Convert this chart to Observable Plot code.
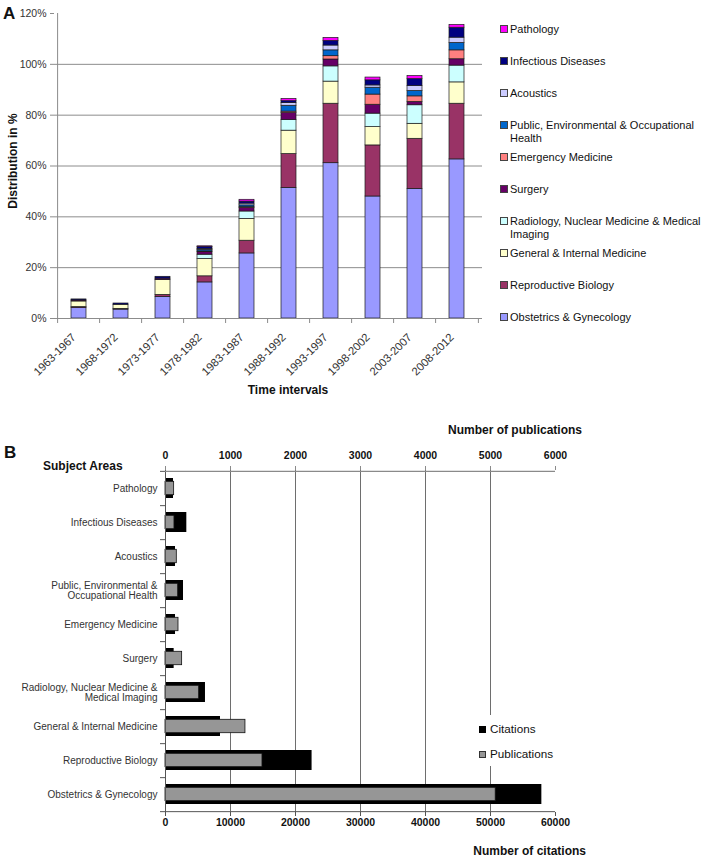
<!DOCTYPE html>
<html><head><meta charset="utf-8">
<script src="https://cdn.jsdelivr.net/npm/d3@7"></script>
<script src="https://cdn.jsdelivr.net/npm/@observablehq/plot@0.6"></script>
<style>
body{margin:0;background:#fff;font-family:"Liberation Sans",Arial,sans-serif;}
#wrap{position:relative;width:708px;height:863px;overflow:hidden;background:#fff;}
#wrap svg{position:absolute;left:0;}
.t{position:absolute;white-space:nowrap;line-height:1;color:#111;}
.sw{position:absolute;box-sizing:border-box;}
</style></head><body><div id="wrap"></div>
<script>
// ---------- Panel A data ----------
const periods = ["1963-1967","1968-1972","1973-1977","1978-1982","1983-1987","1988-1992","1993-1997","1998-2002","2003-2007","2008-2012"];
const areas = ["Obstetrics & Gynecology","Reproductive Biology","General & Internal Medicine","Radiology, Nuclear Medicine & Medical Imaging","Surgery","Emergency Medicine","Public, Environmental & Occupational Health","Acoustics","Infectious Diseases","Pathology"];
const areaColors = ["#9999FF","#993366","#FFFFCC","#CCFFFF","#660066","#FF8080","#0066CC","#CCCCFF","#000080","#FF00FF"];
const obstetrics   = [4.1,3.5,8.5,14.2,25.6,51.4,61.1,48.0,51.0,62.6];
const reproductive = [0.4,0.3,0.8,2.4,5.0,13.3,23.4,20.1,19.7,21.9];
const general      = [2.2,1.6,5.8,6.8,8.6,9.2,8.7,7.2,5.9,8.4];
const radiology    = [0,0,0,1.7,2.9,4.2,6.0,5.3,7.3,6.6];
const surgery      = [0.4,0,0.6,1.0,1.4,2.7,2.7,3.5,1.3,2.5];
const emergency    = [0,0,0,0.3,0.3,0.6,1.3,4.0,2.2,3.5];
const publicHealth = [0,0,0,0.6,0.7,2.3,2.3,2.7,2.1,2.9];
const acoustics    = [0,0,0,0.4,0.7,1.1,1.9,0.9,2.0,2.1];
const infectious   = [0.4,0.5,0.7,0.8,0.8,0.7,1.8,2.0,2.7,3.9];
const pathology    = [0,0,0,0.2,0.7,0.9,1.2,1.1,1.2,1.1];
const yTicksA = [0,20,40,60,80,100,120];
const legendLabelsA = ["Pathology","Infectious Diseases","Acoustics","Public, Environmental & Occupational\nHealth","Emergency Medicine","Surgery","Radiology, Nuclear Medicine & Medical\nImaging","General & Internal Medicine","Reproductive Biology","Obstetrics & Gynecology"];

// ---------- Panel B data ----------
const subjects = ["Pathology","Infectious Diseases","Acoustics","Public, Environmental & Occupational Health","Emergency Medicine","Surgery","Radiology, Nuclear Medicine & Medical Imaging","General & Internal Medicine","Reproductive Biology","Obstetrics & Gynecology"];
const subjectLabels = ["Pathology","Infectious Diseases","Acoustics","Public, Environmental &\nOccupational Health","Emergency Medicine","Surgery","Radiology, Nuclear Medicine &\nMedical Imaging","General & Internal Medicine","Reproductive Biology","Obstetrics & Gynecology"];
const citations    = [1230,3280,1540,2770,1540,1330,6150,8460,22550,57900];
const publications = [133,138,174,195,200,256,518,1230,1492,5080];
const citationTicks = [0,10000,20000,30000,40000,50000,60000];
const pubPerCitationUnit = 10; // top axis 0–6000 shares the 0–60000 citation scale

// ---------- helpers ----------
function hasFont(f){
  const c=document.createElement("canvas").getContext("2d");
  c.font="20px monospace"; const a=c.measureText("abcdefghijMWl&").width;
  c.font=`20px "${f}", monospace`; return c.measureText("abcdefghijMWl&").width!==a;
}
const narrow = hasFont("Liberation Sans Narrow");
const fontB = narrow ? '"Liberation Sans Narrow", "Liberation Sans", sans-serif' : '"Liberation Sans", Arial, sans-serif';
const catSize = narrow ? 12 : 10;
const tickSizeB = narrow ? 12.5 : 10.5;

const wrap = document.getElementById("wrap");
function txt(s, x, y, o = {}) {
  const d = document.createElement("div");
  d.className = "t";
  d.textContent = s;
  d.style.left = x + "px"; d.style.top = y + "px";
  d.style.fontSize = (o.size || 12) + "px";
  if (o.bold) d.style.fontWeight = "bold";
  if (o.family) d.style.fontFamily = o.family;
  if (o.color) d.style.color = o.color;
  if (o.pre) { d.style.whiteSpace = "pre"; d.style.lineHeight = o.lh || "1.15"; }
  const ax = o.anchor === "middle" ? "-50%" : o.anchor === "end" ? "-100%" : "0";
  d.style.transform = `translate(${ax},-50%)` + (o.rotate ? ` rotate(${o.rotate}deg)` : "");
  wrap.appendChild(d);
  return d;
}
function swatch(x, y, w, fill, stroke) {
  const d = document.createElement("div");
  d.className = "sw";
  Object.assign(d.style, {left: x + "px", top: y + "px", width: w + "px", height: w + "px", background: fill, border: `1px solid ${stroke || "#333"}`});
  wrap.appendChild(d);
  return d;
}

// ---------- Panel A ----------
const series = [obstetrics, reproductive, general, radiology, surgery, emergency, publicHealth, acoustics, infectious, pathology];
const rowsA = [];
periods.forEach((p, i) => series.forEach((s, j) => { if (s[i] > 0) rowsA.push({period: p, area: areas[j], value: s[i]}); }));

const mA = {left: 54, right: 226, top: 13, bottom: 82};
const stepA = (708 - mA.left - mA.right) / periods.length;
const gridA = "#8c8c8c";
const plotA = Plot.plot({
  width: 708, height: 400,
  marginLeft: mA.left, marginRight: mA.right, marginTop: mA.top, marginBottom: mA.bottom,
  style: {fontFamily: '"Liberation Sans", Arial, sans-serif', background: "transparent", overflow: "visible"},
  x: {domain: periods, paddingInner: 0.634, paddingOuter: 0.317, axis: null},
  y: {domain: [0, 120], axis: null},
  color: {domain: areas, range: areaColors},
  marks: [
    Plot.ruleY(yTicksA.filter(d => d > 0 && d < 120), {stroke: gridA, strokeWidth: 1}),
    Plot.barY(rowsA, {x: "period", y: "value", fill: "area", stroke: "#1a1a1a", strokeWidth: 0.7, order: areas}),
    Plot.ruleY([0], {stroke: gridA}),
    Plot.ruleX([periods[0]], {dx: -stepA / 2, y1: 0, y2: 120, stroke: gridA}),
    Plot.ruleX(periods, {dx: -stepA / 2, y1: 0, y2: 0, insetBottom: -5, stroke: gridA}),
    Plot.ruleX([periods[periods.length - 1]], {dx: stepA / 2, y1: 0, y2: 0, insetBottom: -5, stroke: gridA}),
    Plot.axisY({ticks: yTicksA, tickFormat: d => d + "%", tickSize: 4, tickPadding: 4, fontSize: 10.5, fill: "#333", stroke: gridA, label: null}),
    Plot.text(periods, {x: d => d, frameAnchor: "bottom", rotate: -45, textAnchor: "end", lineAnchor: "middle", dx: -5, dy: 17, fontSize: 11.3, fill: "#333"})
  ]
});
plotA.style.top = "0px";
wrap.appendChild(plotA);

txt("A", 3, 12.5, {size: 17, bold: true});
txt("Distribution in %", 13, 161, {size: 12, bold: true, anchor: "middle", rotate: -90});
txt("Time intervals", 288, 390, {size: 12, bold: true, anchor: "middle"});

// legend A (top to bottom: last area first)
legendLabelsA.forEach((lab, i) => {
  const area = areas[areas.length - 1 - i];
  const col = areaColors[areas.indexOf(area)];
  const yc = 29 + 32 * i;
  swatch(500, yc - 4, 8, col, "#444");
  const d = txt(lab, 510, yc, {size: 11, color: "#111", pre: lab.includes("\n"), lh: "1.15"});
  if (lab.includes("\n")) d.style.transform = "translate(0,-6.5px)";
});

// ---------- Panel B ----------
const rowsB = subjects.map((s, i) => ({subject: s, citations: citations[i], publications: publications[i]}));
const mB = {left: 165, right: 153, top: 44, bottom: 51};
const heightB = 438;
const stepB = (heightB - mB.top - mB.bottom) / subjects.length;
const plotB = Plot.plot({
  width: 708, height: heightB,
  marginLeft: mB.left, marginRight: mB.right, marginTop: mB.top, marginBottom: mB.bottom,
  style: {fontFamily: fontB, background: "transparent", overflow: "visible"},
  x: {domain: [0, 60000], axis: null},
  y: {domain: subjects, paddingInner: 0.42, paddingOuter: 0.21, axis: null},
  marks: [
    Plot.ruleX(citationTicks.slice(1, -1), {stroke: "#6e6e6e", strokeWidth: 1}),
    Plot.barX(rowsB, {y: "subject", x: "citations", fill: "#000"}),
    Plot.barX(rowsB, {y: "subject", x: d => d.publications * pubPerCitationUnit, fill: "#969696", stroke: "#111", strokeWidth: 0.8, insetTop: 3.3, insetBottom: 3.3}),
    Plot.ruleX([0], {stroke: "#555"}),
    Plot.ruleY([subjects[0]], {dy: -stepB / 2, stroke: "#8a8a8a", strokeWidth: 1.3}),
    Plot.ruleY([subjects[subjects.length - 1]], {dy: stepB / 2, stroke: "#555"}),
    Plot.ruleY(subjects, {dy: stepB / 2, x1: 0, x2: 0, insetLeft: -5, stroke: "#555"}),
    Plot.ruleY([subjects[0]], {dy: -stepB / 2, x1: 0, x2: 0, insetLeft: -5, stroke: "#555"}),
    Plot.axisX({anchor: "top", ticks: citationTicks, tickFormat: d => String(d / pubPerCitationUnit), tickSize: 4, tickPadding: 7, fontSize: tickSizeB, fontWeight: "bold", fill: "#111", stroke: "#8a8a8a", label: null}),
    Plot.axisX({anchor: "bottom", ticks: citationTicks, tickFormat: d => String(d), tickSize: 4, tickPadding: 2, fontSize: tickSizeB, fontWeight: "bold", fill: "#111", stroke: "#555", label: null}),
    Plot.axisY({tickSize: 0, tickPadding: 8, tickFormat: d => subjectLabels[subjects.indexOf(d)], fontSize: catSize, fill: "#333", label: null})
  ]
});
plotB.style.top = "425px";
wrap.appendChild(plotB);

txt("B", 4, 452, {size: 17, bold: true});
txt("Subject Areas", 43, 466, {size: 12, bold: true});
txt("Number of publications", 582, 430, {size: 12, bold: true, anchor: "end"});
txt("Number of citations", 586, 851, {size: 12, bold: true, anchor: "end"});

// legend B
const lb = document.createElement("div");
Object.assign(lb.style, {position: "absolute", left: "475px", top: "715px", width: "82px", height: "51px", background: "#fff"});
wrap.appendChild(lb);
swatch(479, 726, 7, "#000", "#000");
txt("Citations", 490, 729, {size: 11.7, color: "#111"});
swatch(479, 751, 7, "#969696", "#333");
txt("Publications", 490, 754, {size: 11.7, color: "#111"});
</script></body></html>
